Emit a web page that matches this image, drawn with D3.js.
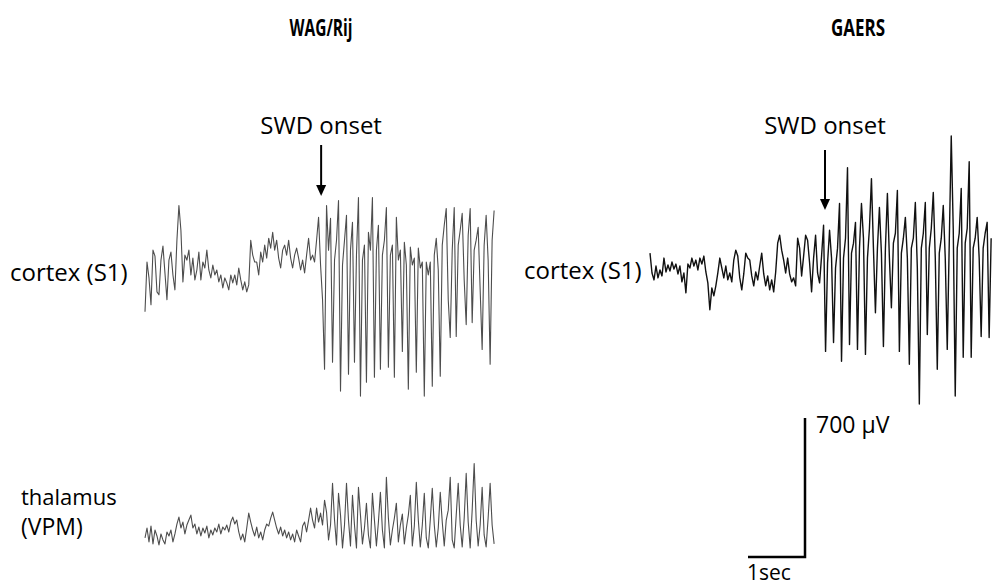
<!DOCTYPE html>
<html><head><meta charset="utf-8">
<script src="https://cdn.jsdelivr.net/npm/d3@7"></script>
<style>
body{margin:0;background:#fff}
svg{display:block}
text{font-family:"Open Sans",sans-serif;fill:#000}
</style>
</head><body>
<svg id="c" width="994" height="585"></svg>
<script>
// ---- data (µV, one sample every 35 ms) ----
const sampleMs = 35;
const strains = ["WAG/Rij", "GAERS"];
const onsetSec = [3.09, 3.07];
const scaleBarUV = 700;
const scaleBarSec = 1;

const wagCortexPre = [-220,30,-50,-185,90,60,-120,-135,40,110,
-25,-160,40,80,-35,-110,140,315,190,-70,
65,40,90,-35,50,-60,-10,80,-60,30,
0,90,-10,-50,15,-35,-10,-70,-35,-100,
-50,-75,-110,-35,-75,-35,-85,0,-60,-110,
-70,-120,-85,140,65,30,30,-35,80,30,
115,50,150,100,180,90,140,50,0,90,
115,65,140,50,0,65,100,50,-10,40,
-25,65,150,40];
const wagCortexSWD = [65,30,140,255,15,-160,-510,315,90,250,
-475,40,140,340,-620,15,140,265,-535,90,
230,-475,65,355,-645,40,115,-575,180,90,
355,-550,90,215,-510,65,140,305,-500,65,
115,-550,255,40,90,-420,130,15,-610,105,
15,50,-525,100,0,30,-645,30,-35,30,
-595,65,150,-10,-545,115,215,300,-160,-350,
90,305,-345,115,190,275,-60,-285,165,300,
-275,90,140,205,-110,-410,115,265,40,-485,
140,290];
const wagThalPre = [-40,10,-60,20,-70,0,-30,-75,-20,-50,
-70,-10,-30,0,-60,-20,30,65,10,40,
-20,25,50,75,10,30,-20,15,-30,10,
-15,20,-40,0,-25,10,-10,30,-20,15,
0,25,-10,40,65,30,50,-10,-50,-20,
-60,10,85,40,0,-30,15,-40,-10,-50,
0,30,20,60,90,50,10,-20,15,-30,
0,-40,-10,-50,-20,-60,0,-30,-60,20,
40,-10,50,110];
const wagThalSWD = [50,10,110,40,85,25,150,90,-50,25,
235,50,-75,185,75,-90,25,235,50,-80,
175,25,-90,215,75,-70,10,135,-25,-90,
185,50,-80,40,190,0,-90,265,60,-75,
0,60,135,-60,25,80,-70,10,75,175,
-80,20,240,50,-85,25,185,-40,-90,50,
210,25,-85,10,190,40,-80,50,100,265,
-50,-90,75,235,25,-85,60,285,40,-90,
100,335,50,-80,25,215,-25,-85,60,235,
25,-70];
const gaersCortexPre = [75,-25,-60,10,-50,-10,-40,50,-20,15,
-15,30,-5,20,-30,10,-70,-25,-125,20,
0,50,10,40,-10,50,20,60,-20,-75,
-210,-100,-140,-90,-25,50,0,-50,10,-60,
-25,-70,40,90,60,-50,-110,-30,75,50,
40,-40,-90,-20,-60,10,75,-30,-90,-40,
-110,-60,-120,-20,125,165,90,40,-25,50,
-30,-70,-50,-90,150,100,-40,60,165,140,
25,-120,50,165,-25,-75,60];
const gaersCortexSWD = [215,-420,25,190,50,-375,0,100,325,-470,
50,150,505,-385,75,125,230,-410,100,325,
150,-435,50,200,450,100,-225,100,305,75,
-395,100,375,50,-200,125,175,390,-420,75,
150,255,50,-485,100,150,330,0,-685,100,
175,330,-335,100,200,380,50,-510,75,150,
315,50,-410,125,665,200,-645,100,175,400,
-450,125,200,535,-450,100,150,255,50,-345,
100,175,230,-350,150];

// ---- layout ----
const svg = d3.select("#c");
const pxPerSec = 57, pxPer700 = 139;
const dt = sampleMs / 1000;

function trace(values, x0, y0, color, width) {
  const dur = (values.length - 1) * dt;
  const x = d3.scaleLinear().domain([0, dur]).range([x0, x0 + dur * pxPerSec]);
  const y = d3.scaleLinear().domain([0, scaleBarUV]).range([y0, y0 - pxPer700]);
  const line = d3.line().x((d, i) => x(i * dt)).y(d => y(d));
  svg.append("path").datum(values).attr("d", line)
    .attr("fill", "none").attr("stroke", color).attr("stroke-width", width)
    .attr("stroke-linejoin", "round");
  return {x, y};
}

const wagC = trace(wagCortexPre.concat(wagCortexSWD), 145, 268, "#4d4d4d", 1.1);
const wagT = trace(wagThalPre.concat(wagThalSWD), 145, 530, "#4d4d4d", 1.1);
const gaC = trace(gaersCortexPre.concat(gaersCortexSWD), 650, 268, "#111", 1.4);

// titles
[[321, strains[0], 63], [858, strains[1], 54]].forEach(([cx, t, w]) => {
  svg.append("text").attr("x", cx).attr("y", 36).attr("text-anchor", "middle")
    .attr("font-weight", "bold").attr("font-size", 24)
    .attr("textLength", w).attr("lengthAdjust", "spacingAndGlyphs").text(t);
});

// onset arrows
[[wagC, onsetSec[0], 145, 196], [gaC, onsetSec[1], 150, 210]].forEach(([sc, t, yTop, yTip]) => {
  const ax = sc.x(t);
  svg.append("text").attr("x", ax).attr("y", 134).attr("text-anchor", "middle")
    .attr("font-size", 24).text("SWD onset");
  svg.append("line").attr("x1", ax).attr("x2", ax).attr("y1", yTop).attr("y2", yTip - 9)
    .attr("stroke", "#000").attr("stroke-width", 2);
  svg.append("path").attr("d", `M${ax-5},${yTip-11}L${ax+5},${yTip-11}L${ax},${yTip}Z`).attr("fill", "#000");
});

// row labels
svg.append("text").attr("x", 10).attr("y", 281).attr("font-size", 24).text("cortex (S1)");
svg.append("text").attr("x", 524).attr("y", 279).attr("font-size", 24).text("cortex (S1)");
svg.append("text").attr("x", 21).attr("y", 505).attr("font-size", 22).text("thalamus");
svg.append("text").attr("x", 21).attr("y", 535).attr("font-size", 23).text("(VPM)");

// scale bar
const sbX = d3.scaleLinear().domain([0, scaleBarSec]).range([748, 748 + pxPerSec]);
const sbY = d3.scaleLinear().domain([0, scaleBarUV]).range([557, 557 - pxPer700]);
svg.append("path")
  .attr("d", `M${sbX(0)},${sbY(0)}L${sbX(scaleBarSec)},${sbY(0)}L${sbX(scaleBarSec)},${sbY(scaleBarUV)}`)
  .attr("fill", "none").attr("stroke", "#000").attr("stroke-width", 2.5);
svg.append("text").attr("x", 816).attr("y", 433).attr("font-size", 23).text("700 µV");
svg.append("text").attr("x", 747).attr("y", 580).attr("font-size", 21).text("1sec");
</script>
</body></html>
